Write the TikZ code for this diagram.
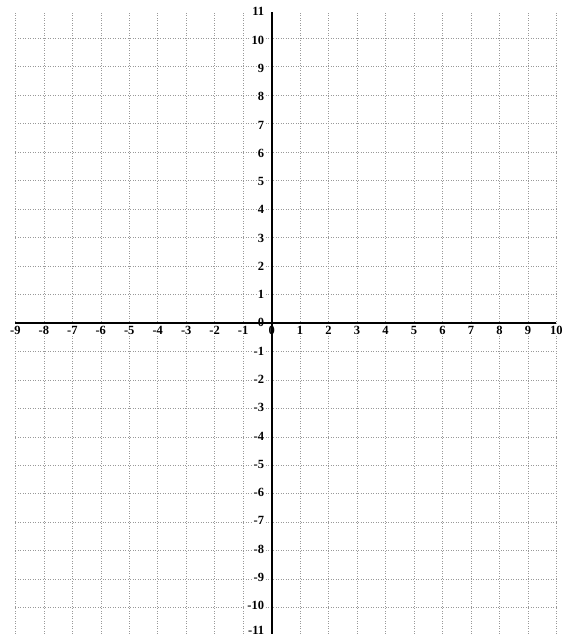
\documentclass[tikz,border=0pt]{standalone}
\usepackage{fontspec}
\setmainfont{Liberation Serif}

\begin{document}
\begin{tikzpicture}[x=1cm, y=0.993cm,
    every node/.style={font=\fontsize{12.5}{14}\selectfont\bfseries},
    gridline/.style={dotted, draw=black!40, line width=0.5pt},
    axis/.style={draw=black, line width=2pt},
    xlab/.style={anchor=north, inner sep=1pt, fill=white},
    ylab/.style={anchor=east, inner sep=1pt, fill=white}
]
\useasboundingbox (-9.54,-11.11) rectangle (10.21,11.42);

% --- grid ---
\draw[gridline] (-9,-11) grid (10,11);

% --- tick labels ---
\foreach \x in {-9,...,10}
    \node[xlab] (xlab\x) at (\x,-0.07) {\x};
\foreach \y in {-11,...,11} {
    \pgfmathsetmacro{\yy}{max(\y,-10.86)}
    \node[ylab] (ylab\y) at (-0.22,\yy) {\y};
}

% --- axes ---
\draw[axis] (-9,0) -- (10,0);
\draw[axis] (0,-11) -- (0,11);

\end{tikzpicture}
\end{document}
